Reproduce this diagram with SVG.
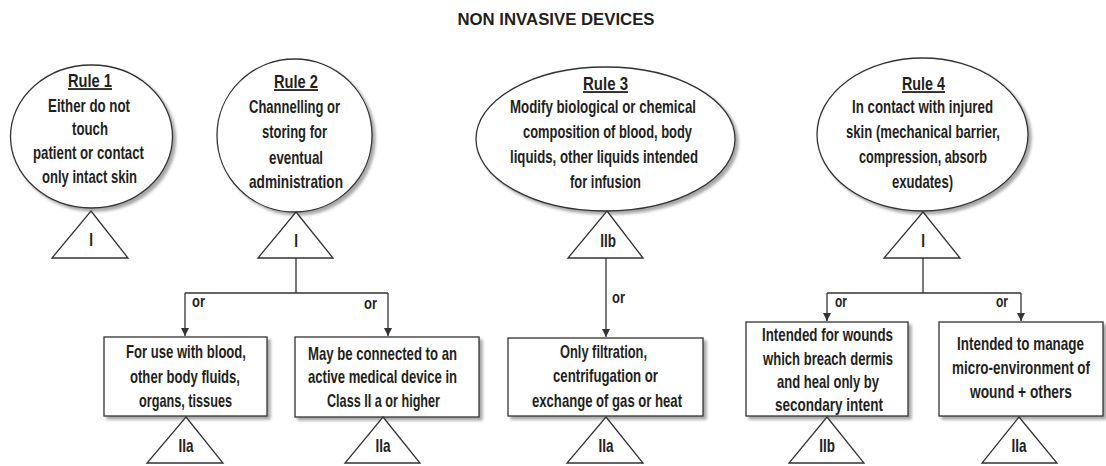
<svg xmlns="http://www.w3.org/2000/svg" width="1106" height="466" viewBox="0 0 1106 466">
<style>
.shape{fill:#fff;stroke:#333;stroke-width:1.3}
.tri{fill:#fff;stroke:#333;stroke-width:1.3}
.t{font-family:"Liberation Sans",Arial,sans-serif;font-size:18px;font-weight:bold;fill:#231f20;text-anchor:middle}
.u{text-decoration:underline}
.or{font-family:"Liberation Sans",Arial,sans-serif;font-size:17px;font-weight:bold;fill:#231f20;text-anchor:start}
.title{font-family:"Liberation Sans",Arial,sans-serif;font-size:16px;font-weight:bold;fill:#231f20;text-anchor:middle}
.conn{fill:none;stroke:#333;stroke-width:1.3}
</style>
<defs>
<filter id="sh" x="-10%" y="-10%" width="130%" height="130%">
<feGaussianBlur in="SourceAlpha" stdDeviation="1.5"/>
<feOffset dx="3" dy="3" result="b"/>
<feComponentTransfer><feFuncA type="linear" slope="0.35"/></feComponentTransfer>
<feMerge><feMergeNode/><feMergeNode in="SourceGraphic"/></feMerge>
</filter>
<marker id="arr" viewBox="0 0 10 10" refX="10" refY="5" markerWidth="8" markerHeight="8" markerUnits="userSpaceOnUse" orient="auto">
<path d="M0,0 L10,5 L0,10 z" fill="#333"/>
</marker>
</defs>
<rect width="1106" height="466" fill="#fff"/>
<text class="title" x="556" y="25" textLength="197" lengthAdjust="spacingAndGlyphs">NON INVASIVE DEVICES</text>

<g id="connectors">
<path class="conn" d="M296,258 V293 M185,293 H388"/>
<path class="conn" d="M185,293 V336" marker-end="url(#arr)"/>
<path class="conn" d="M388,293 V336" marker-end="url(#arr)"/>
<path class="conn" d="M606,258 V337" marker-end="url(#arr)"/>
<path class="conn" d="M923,258 V293 M827,293 H1021"/>
<path class="conn" d="M827,293 V321" marker-end="url(#arr)"/>
<path class="conn" d="M1021,293 V321" marker-end="url(#arr)"/>
<text class="or" transform="translate(192 307) scale(0.75 1)" textLength="17.3" lengthAdjust="spacingAndGlyphs">or</text>
<text class="or" transform="translate(364 309) scale(0.75 1)" textLength="17.3" lengthAdjust="spacingAndGlyphs">or</text>
<text class="or" transform="translate(612 303) scale(0.75 1)" textLength="17.3" lengthAdjust="spacingAndGlyphs">or</text>
<text class="or" transform="translate(835 307) scale(0.75 1)" textLength="16" lengthAdjust="spacingAndGlyphs">or</text>
<text class="or" transform="translate(996 307) scale(0.75 1)" textLength="16" lengthAdjust="spacingAndGlyphs">or</text>
</g>

<g id="rule1">
<ellipse class="shape" cx="91.5" cy="136.5" rx="81" ry="71.5" filter="url(#sh)"/>
<text class="t u" transform="translate(90 87) scale(0.75 1)" textLength="58.7" lengthAdjust="spacingAndGlyphs">Rule 1</text>
<text class="t" transform="translate(89 112) scale(0.75 1)" textLength="109.3" lengthAdjust="spacingAndGlyphs">Either do not</text>
<text class="t" transform="translate(90 135) scale(0.75 1)" textLength="48" lengthAdjust="spacingAndGlyphs">touch</text>
<text class="t" transform="translate(88.5 159) scale(0.75 1)" textLength="148" lengthAdjust="spacingAndGlyphs">patient or contact</text>
<text class="t" transform="translate(89.5 183) scale(0.75 1)" textLength="126.7" lengthAdjust="spacingAndGlyphs">only intact skin</text>
</g>
<g id="class1">
<polygon class="tri" points="91,211 128,258 52,258"/>
<text class="t" transform="translate(91 246) scale(0.75 1)">I</text>
</g>

<g id="rule2">
<ellipse class="shape" cx="294.5" cy="135.5" rx="77.5" ry="76.5" filter="url(#sh)"/>
<text class="t u" transform="translate(296 88) scale(0.75 1)" textLength="58.7" lengthAdjust="spacingAndGlyphs">Rule 2</text>
<text class="t" transform="translate(294.5 113) scale(0.75 1)" textLength="121.3" lengthAdjust="spacingAndGlyphs">Channelling or</text>
<text class="t" transform="translate(294.5 138) scale(0.75 1)" textLength="86.7" lengthAdjust="spacingAndGlyphs">storing for</text>
<text class="t" transform="translate(296 164) scale(0.75 1)" textLength="72" lengthAdjust="spacingAndGlyphs">eventual</text>
<text class="t" transform="translate(296 188) scale(0.75 1)" textLength="125.3" lengthAdjust="spacingAndGlyphs">administration</text>
</g>
<g id="class2">
<polygon class="tri" points="296,212 333,258 258,258"/>
<text class="t" transform="translate(296 247) scale(0.75 1)">I</text>
</g>

<g id="rule3">
<ellipse class="shape" cx="605.5" cy="139" rx="129.5" ry="72" filter="url(#sh)"/>
<text class="t u" transform="translate(605.5 90) scale(0.75 1)" textLength="60" lengthAdjust="spacingAndGlyphs">Rule 3</text>
<text class="t" transform="translate(603 113) scale(0.75 1)" textLength="248" lengthAdjust="spacingAndGlyphs">Modify biological or chemical</text>
<text class="t" transform="translate(607.5 138) scale(0.75 1)" textLength="225.3" lengthAdjust="spacingAndGlyphs">composition of blood, body</text>
<text class="t" transform="translate(604 163) scale(0.75 1)" textLength="250.7" lengthAdjust="spacingAndGlyphs">liquids, other liquids intended</text>
<text class="t" transform="translate(605.5 188) scale(0.75 1)" textLength="94.7" lengthAdjust="spacingAndGlyphs">for infusion</text>
</g>
<g id="class3">
<polygon class="tri" points="607,211 643,258 568,258"/>
<text class="t" transform="translate(608 247) scale(0.75 1)">IIb</text>
</g>

<g id="rule4">
<ellipse class="shape" cx="922.5" cy="134.5" rx="105.5" ry="76.5" filter="url(#sh)"/>
<text class="t u" transform="translate(923.5 90) scale(0.75 1)" textLength="57.3" lengthAdjust="spacingAndGlyphs">Rule 4</text>
<text class="t" transform="translate(922.5 113) scale(0.75 1)" textLength="188" lengthAdjust="spacingAndGlyphs">In contact with injured</text>
<text class="t" transform="translate(923 138) scale(0.75 1)" textLength="205.3" lengthAdjust="spacingAndGlyphs">skin (mechanical barrier,</text>
<text class="t" transform="translate(923 163) scale(0.75 1)" textLength="170.7" lengthAdjust="spacingAndGlyphs">compression, absorb</text>
<text class="t" transform="translate(922.5 188) scale(0.75 1)" textLength="81.3" lengthAdjust="spacingAndGlyphs">exudates)</text>
</g>
<g id="class4">
<polygon class="tri" points="923,212 960,258 884,258"/>
<text class="t" transform="translate(923 247) scale(0.75 1)">I</text>
</g>

<g id="box1">
<rect class="shape" x="104" y="337" width="163" height="79" filter="url(#sh)"/>
<text class="t" transform="translate(186 358) scale(0.75 1)" textLength="160" lengthAdjust="spacingAndGlyphs">For use with blood,</text>
<text class="t" transform="translate(185 383) scale(0.75 1)" textLength="146.7" lengthAdjust="spacingAndGlyphs">other body fluids,</text>
<text class="t" transform="translate(185.5 407) scale(0.75 1)" textLength="124" lengthAdjust="spacingAndGlyphs">organs, tissues</text>
</g>
<g id="class5">
<polygon class="tri" points="186,417 223,463 147,463"/>
<text class="t" transform="translate(186 452) scale(0.75 1)">IIa</text>
</g>

<g id="box2">
<rect class="shape" x="295" y="337" width="184" height="80" filter="url(#sh)"/>
<text class="t" transform="translate(382.5 360) scale(0.75 1)" textLength="198.7" lengthAdjust="spacingAndGlyphs">May be connected to an</text>
<text class="t" transform="translate(382.5 383) scale(0.75 1)" textLength="198.7" lengthAdjust="spacingAndGlyphs">active medical device in</text>
<text class="t" transform="translate(383.5 407) scale(0.75 1)" textLength="150.7" lengthAdjust="spacingAndGlyphs">Class II a or higher</text>
</g>
<g id="class6">
<polygon class="tri" points="383,417 420,463 345,463"/>
<text class="t" transform="translate(383 452) scale(0.75 1)">IIa</text>
</g>

<g id="box3">
<rect class="shape" x="508" y="338" width="195" height="78" filter="url(#sh)"/>
<text class="t" transform="translate(603.5 358) scale(0.75 1)" textLength="116" lengthAdjust="spacingAndGlyphs">Only filtration,</text>
<text class="t" transform="translate(605.5 382) scale(0.75 1)" textLength="140" lengthAdjust="spacingAndGlyphs">centrifugation or</text>
<text class="t" transform="translate(607 407) scale(0.75 1)" textLength="200" lengthAdjust="spacingAndGlyphs">exchange of gas or heat</text>
</g>
<g id="class7">
<polygon class="tri" points="606,417 643,463 567,463"/>
<text class="t" transform="translate(606 452) scale(0.75 1)">IIa</text>
</g>

<g id="box4">
<rect class="shape" x="746" y="322" width="162" height="94" filter="url(#sh)"/>
<text class="t" transform="translate(827.5 341) scale(0.75 1)" textLength="174.7" lengthAdjust="spacingAndGlyphs">Intended for wounds</text>
<text class="t" transform="translate(828 364.5) scale(0.75 1)" textLength="173.3" lengthAdjust="spacingAndGlyphs">which breach dermis</text>
<text class="t" transform="translate(828 388) scale(0.75 1)" textLength="136" lengthAdjust="spacingAndGlyphs">and heal only by</text>
<text class="t" transform="translate(829 411) scale(0.75 1)" textLength="144" lengthAdjust="spacingAndGlyphs">secondary intent</text>
</g>
<g id="class8">
<polygon class="tri" points="827,417 864,463 789,463"/>
<text class="t" transform="translate(827 452) scale(0.75 1)">IIb</text>
</g>

<g id="box5">
<rect class="shape" x="939" y="322" width="164" height="94" filter="url(#sh)"/>
<text class="t" transform="translate(1020.5 350) scale(0.75 1)" textLength="169.3" lengthAdjust="spacingAndGlyphs">Intended to manage</text>
<text class="t" transform="translate(1021 374) scale(0.75 1)" textLength="184" lengthAdjust="spacingAndGlyphs">micro-environment of</text>
<text class="t" transform="translate(1021 398) scale(0.75 1)" textLength="136" lengthAdjust="spacingAndGlyphs">wound + others</text>
</g>
<g id="class9">
<polygon class="tri" points="1019,417 1057,463 982,463"/>
<text class="t" transform="translate(1019 452) scale(0.75 1)">IIa</text>
</g>
</svg>
